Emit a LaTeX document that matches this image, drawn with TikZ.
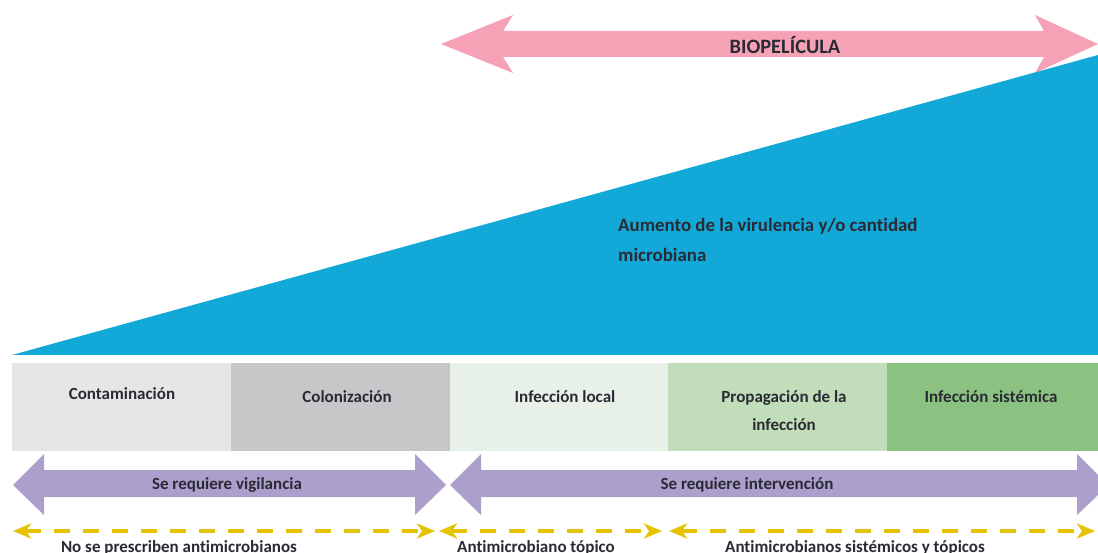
\documentclass[tikz,border=0pt]{standalone}
\usepackage{fontspec}
\setmainfont[RawFeature={-liga}]{Carlito}
\usetikzlibrary{arrows.meta}
\definecolor{skyb}{HTML}{12A9D8}
\definecolor{pinkb}{HTML}{F6A2B6}
\definecolor{purp}{HTML}{AD9FCB}
\definecolor{yell}{HTML}{E6C300}
\definecolor{txt}{HTML}{2A2A35}
\definecolor{g1}{HTML}{E6E6E6}
\definecolor{g2}{HTML}{C6C7C9}
\definecolor{v1}{HTML}{E7F1E7}
\definecolor{v2}{HTML}{C1DDB9}
\definecolor{v3}{HTML}{8BC281}
\tikzset{
  x=1pt,y=-1pt,
  label text/.style={font=\fontsize{17}{28}\selectfont\bfseries,text=txt,inner sep=0pt,align=center},
  stagebox/.style={draw=none,minimum height=88pt,inner sep=0pt,anchor=north west},
  yellowline/.style={draw=yell,line width=4.5pt,dash pattern=on 16.5pt off 12.5pt,
    {Stealth[length=18pt,width=15pt,inset=5pt,fill=yell]}-{Stealth[length=18pt,width=15pt,inset=5pt,fill=yell]}},
}
\begin{document}
\begin{tikzpicture}
\path[use as bounding box,clip] (0,0) rectangle (1098,553);
\fill[white] (0,0) rectangle (1098,553);
% pink arrow
\fill[pinkb] (441,44) -- (513,15) -- (503,31) -- (1044,31) -- (1035,15) -- (1098,44) -- (1035,73) -- (1044,57) -- (503,57) -- (513,73) -- cycle;
\node[label text,font=\fontsize{20.4}{24}\selectfont\bfseries] (bio) at (785,45) {BIOPELÍCULA};
% triangle
\fill[skyb] (12,355) -- (1098,55) -- (1098,355) -- cycle;
\node[label text,font=\fontsize{18.9}{30}\selectfont\bfseries,align=left,anchor=north west] (aum) at (618,218) {Aumento de la virulencia y/o cantidad\\microbiana};
% boxes
\node[stagebox,fill=g1,minimum width=219pt] (b1) at (12,363) {};
\node[stagebox,fill=g2,minimum width=219pt] (b2) at (231,363) {};
\node[stagebox,fill=v1,minimum width=218pt] (b3) at (450,363) {};
\node[stagebox,fill=v2,minimum width=219pt] (b4) at (668,363) {};
\node[stagebox,fill=v3,minimum width=211pt] (b5) at (887,363) {};
\node[label text] (t1) at (122,394) {Contaminación};
\node[label text] (t2) at (347,397) {Colonización};
\node[label text] (t3) at (565,397) {Infección local};
\node[label text] (t4) at (784,411) {Propagación de la\\infección};
\node[label text] (t5) at (991,397) {Infección sistémica};
% purple arrows
\fill[purp] (13,485) -- (44,454) -- (44,470) -- (415,470) -- (415,454) -- (446,485) -- (415,515) -- (415,497) -- (44,497) -- (44,515) -- cycle;
\fill[purp] (450,485) -- (481,454) -- (481,470) -- (1077,470) -- (1077,454) -- (1098,475) -- (1098,495) -- (1077,515) -- (1077,497) -- (481,497) -- (481,515) -- cycle;
\node[label text] (s1) at (227,485) {Se requiere vigilancia};
\node[label text] (s2) at (747,485) {Se requiere intervención};
% yellow
\coordinate (y1a) at (13,531); \coordinate (y1b) at (435,531);
\coordinate (y2a) at (439,531); \coordinate (y2b) at (662,531);
\coordinate (y3a) at (669,531); \coordinate (y3b) at (1095,531);
\draw[yellowline] (y1a) -- (y1b);
\draw[yellowline] (y2a) -- (y2b);
\draw[yellowline] (y3a) -- (y3b);
\node[label text] (a1) at (179,548) {No se prescriben antimicrobianos};
\node[label text] (a2) at (536,548) {Antimicrobiano tópico};
\node[label text] (a3) at (855,548) {Antimicrobianos sistémicos y tópicos};
\end{tikzpicture}
\end{document}
